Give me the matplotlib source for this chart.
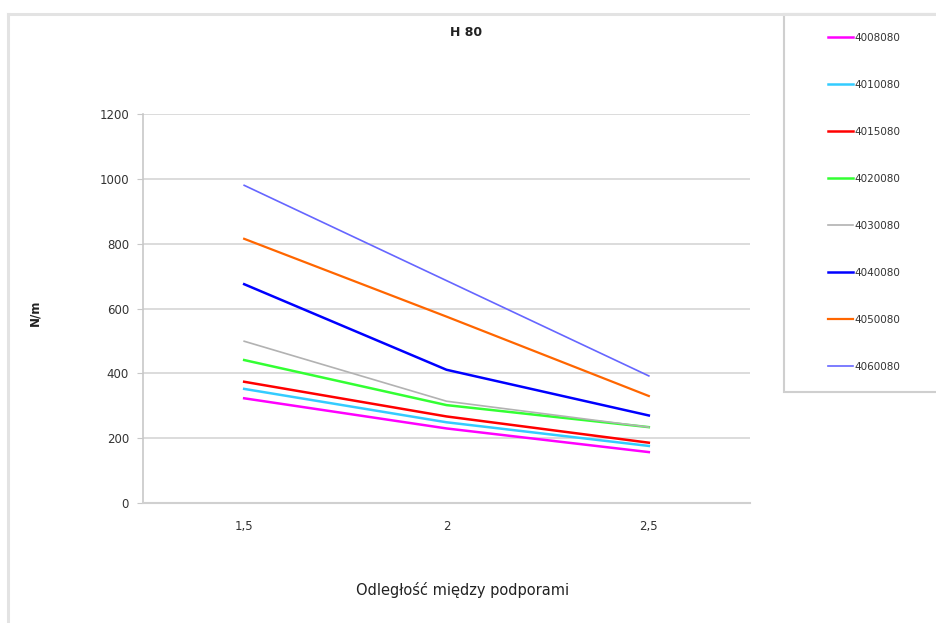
import numpy as np
import matplotlib
matplotlib.use("Agg")
import matplotlib.pyplot as plt
from matplotlib.patches import Rectangle
from matplotlib.lines import Line2D

# data
categories = ["1,5", "2", "2,5"]
series_names = ["4008080", "4010080", "4015080", "4020080",
                "4030080", "4040080", "4050080", "4060080"]
v4008080 = [323, 230, 157]
v4010080 = [352, 249, 176]
v4015080 = [374, 267, 186]
v4020080 = [441, 302, 234]
v4030080 = [499, 314, 234]
v4040080 = [675, 411, 270]
v4050080 = [815, 575, 330]
v4060080 = [980, 686, 392]
series_values = [v4008080, v4010080, v4015080, v4020080,
                 v4030080, v4040080, v4050080, v4060080]

colors = ["#FF00FF", "#33CCFF", "#FF0000", "#33FF33",
          "#B2B2B2", "#0000FF", "#FF6600", "#6666FF"]
widths = [1.8, 1.8, 1.8, 1.8, 1.2, 1.8, 1.6, 1.2]

W, H = 936, 623
fig = plt.figure(figsize=(W / 100, H / 100), dpi=100)
fig.patch.set_facecolor("white")

# outer chart frame (top and left edges) and legend box
fig.add_artist(Line2D([8 / W, 8 / W], [0, 1 - 14 / H], transform=fig.transFigure,
                      color="#E3E3E3", lw=2.2))
fig.add_artist(Line2D([8 / W, 1], [1 - 14 / H, 1 - 14 / H], transform=fig.transFigure,
                      color="#E3E3E3", lw=2.2))
fig.add_artist(Rectangle((784 / W, 1 - 392 / H), (W - 784 + 10) / W, (392 - 14) / H,
                         transform=fig.transFigure, facecolor="white",
                         edgecolor="#CFCFCF", lw=1.5))

ax = fig.add_axes([143 / W, 1 - 503 / H, 607 / W, 389 / H])
x = np.arange(len(categories))
handles = []
for name, vals, c, lw in zip(series_names, series_values, colors, widths):
    h, = ax.plot(x, vals, color=c, lw=lw, label=name, solid_joinstyle="round")
    handles.append(h)

ax.set_xlim(-0.5, 2.5)
ax.set_ylim(0, 1200)
ax.set_yticks(np.arange(0, 1201, 200))
ax.set_xticks(x)
ax.set_xticklabels(categories)
ax.yaxis.grid(True, color="#D9D9D9", lw=1.3)
ax.set_axisbelow(True)
for s in ["top", "right"]:
    ax.spines[s].set_visible(False)
ax.spines["left"].set_color("#C8C8C8")
ax.spines["bottom"].set_color("#D0D0D0")
ax.spines["left"].set_linewidth(1.2)
ax.spines["bottom"].set_linewidth(1.5)
ax.tick_params(axis="y", length=4, color="#C8C8C8", labelsize=8.5,
               labelcolor="#333333", pad=6)
ax.tick_params(axis="x", length=0, labelsize=8.5, labelcolor="#333333", pad=12)

fig.text(466 / W, 1 - 33 / H, "H 80", ha="center", va="center",
         fontsize=9, fontweight="bold", color="#222222")
fig.text(35 / W, 1 - 313 / H, "N/m", ha="center", va="center", rotation=90,
         fontsize=8.5, fontweight="bold", color="#222222")
fig.text(463 / W, 1 - 590 / H, "Odległość między podporami", ha="center",
         va="center", fontsize=10.5, color="#222222")

leg = fig.legend(handles=handles, labels=series_names, loc="upper left",
                 bbox_to_anchor=(828 / W, 1 - 33 / H), frameon=False,
                 fontsize=7.5, handlelength=2.4, handletextpad=0.15,
                 labelspacing=3.55, borderpad=0, borderaxespad=0)
for t in leg.get_texts():
    t.set_color("#333333")

fig.savefig("out.png", dpi=100)
